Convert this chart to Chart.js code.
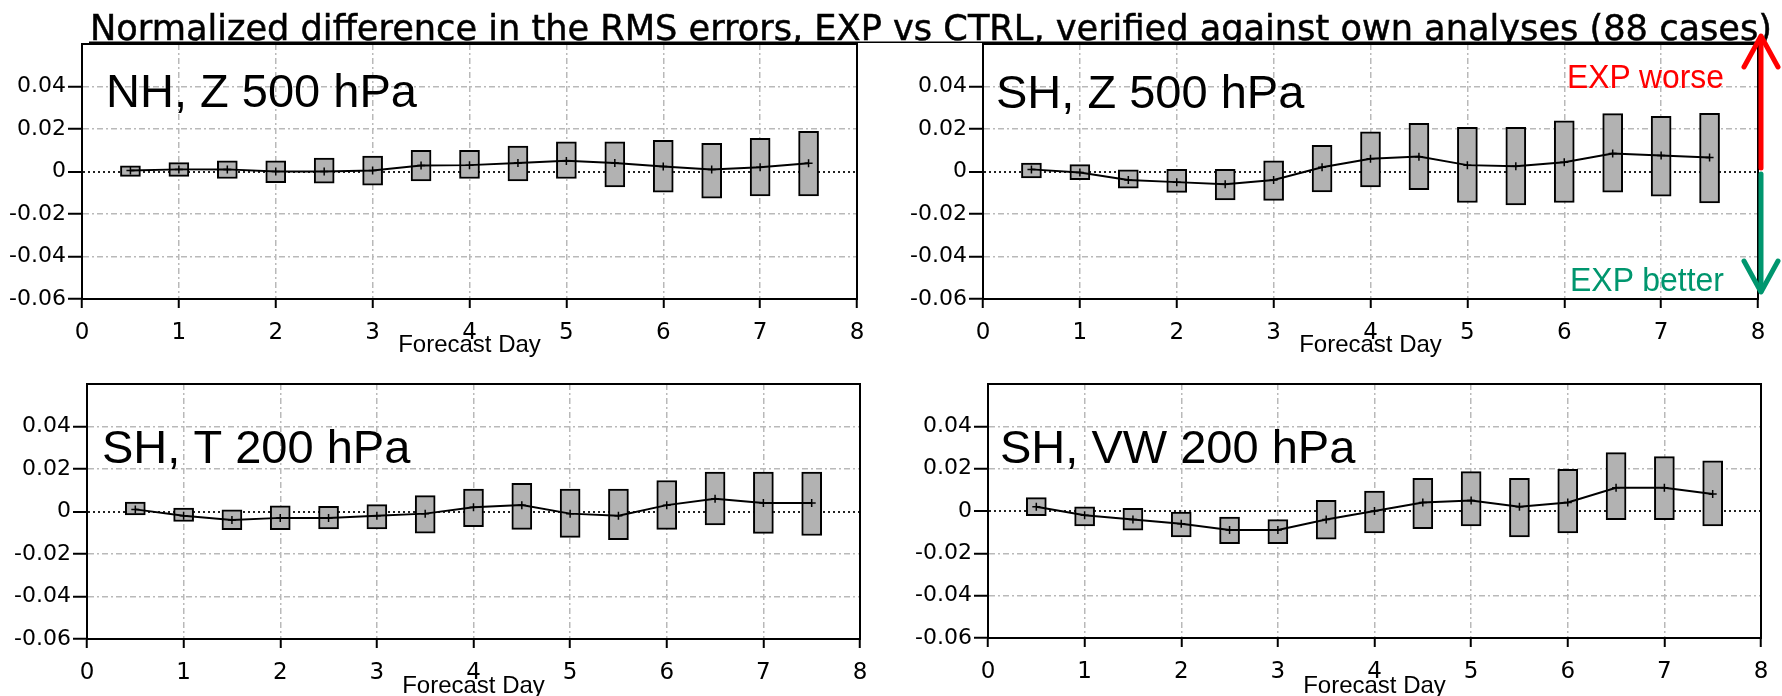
<!DOCTYPE html>
<html>
<head>
<meta charset="utf-8">
<title>Normalized RMS error difference</title>
<script src="https://cdn.jsdelivr.net/npm/chart.js@4.4.1/dist/chart.umd.min.js"></script>
<style>
  body { margin: 0; background: #fff; }
  #page { position: relative; width: 1782px; height: 696px; overflow: hidden; background: #fff; }
  canvas.panel { position: absolute; }
  #overlay { position: absolute; left: 0; top: 0; pointer-events: none; }
</style>
</head>
<body>
<div id="page">
  <canvas id="nhZ500" class="panel" width="880" height="360" style="left:0;top:0"></canvas>
  <canvas id="shZ500" class="panel" width="891" height="360" style="left:891px;top:0"></canvas>
  <canvas id="shT200" class="panel" width="880" height="336" style="left:0;top:360px"></canvas>
  <canvas id="shVW200" class="panel" width="891" height="336" style="left:891px;top:360px"></canvas>

  <svg id="overlay" width="1782" height="696">
    <defs>
      <clipPath id="titleClip"><rect x="0" y="0" width="1782" height="43"/></clipPath>
    </defs>
    <g clip-path="url(#titleClip)">
      <text x="90" y="39.5" font-family="DejaVu Sans" font-size="35" fill="#000" stroke="#000" stroke-width="0.5"
            textLength="1682" lengthAdjust="spacingAndGlyphs">Normalized difference in the RMS errors, EXP vs CTRL, verified against own analyses (88 cases)</text>
      <rect x="89" y="41.5" width="1669" height="2" fill="#000"/>
    </g>

    <!-- sign convention arrows on the right -->
    <g stroke="#ff0000" stroke-width="5" fill="none" stroke-linecap="round" stroke-linejoin="round">
      <line x1="1761" y1="168" x2="1761" y2="38"/>
      <polyline points="1744,67 1761,36 1778,67"/>
    </g>
    <g stroke="#00966e" stroke-width="5" fill="none" stroke-linecap="round" stroke-linejoin="round">
      <line x1="1761" y1="174" x2="1761" y2="291"/>
      <polyline points="1744,261 1761,292 1778,261"/>
    </g>
    <text x="1567" y="88" font-family="Liberation Sans" font-size="33" fill="#ff0000" textLength="157" lengthAdjust="spacingAndGlyphs">EXP worse</text>
    <text x="1570" y="291" font-family="Liberation Sans" font-size="33" fill="#00966e" textLength="154" lengthAdjust="spacingAndGlyphs">EXP better</text>
  </svg>
</div>

<script>
// forecast lead times (days) of the verification boxes
const forecastDays = [0.5, 1, 1.5, 2, 2.5, 3, 3.5, 4, 4.5, 5, 5.5, 6, 6.5, 7, 7.5]
const dayTicks = [0, 1, 2, 3, 4, 5, 6, 7, 8]
const diffTicks = [-0.06, -0.04, -0.02, 0, 0.02, 0.04]

// NH, Z 500 hPa
const nhZ500Low = [-0.0023, -0.0023, -0.0033, -0.0053, -0.0055, -0.0064, -0.0044, -0.0033, -0.0044, -0.0033, -0.0073, -0.0097, -0.0126, -0.0115, -0.0115]
const nhZ500High = [0.0027, 0.0042, 0.005, 0.005, 0.0063, 0.0072, 0.010, 0.010, 0.012, 0.014, 0.014, 0.0147, 0.0132, 0.0156, 0.0189]
const nhZ500Mean = [0.0005, 0.001, 0.001, 0.0, 0.0, 0.0005, 0.0028, 0.003, 0.004, 0.005, 0.004, 0.0023, 0.001, 0.002, 0.0039]

// SH, Z 500 hPa
const shZ500Low = [-0.003, -0.0038, -0.0078, -0.0098, -0.0134, -0.0136, -0.0096, -0.0072, -0.0085, -0.0146, -0.0157, -0.0146, -0.0097, -0.0116, -0.0148]
const shZ500High = [0.0040, 0.0032, 0.0008, 0.001, 0.001, 0.005, 0.0123, 0.0187, 0.0227, 0.0208, 0.0208, 0.0238, 0.0272, 0.026, 0.0274]
const shZ500Mean = [0.001, -0.0005, -0.004, -0.005, -0.006, -0.004, 0.002, 0.006, 0.007, 0.003, 0.0025, 0.0044, 0.0085, 0.0075, 0.0066]

// SH, T 200 hPa
const shT200Low = [-0.0016, -0.0047, -0.0086, -0.0086, -0.0082, -0.0082, -0.0102, -0.0071, -0.0084, -0.0122, -0.0133, -0.0084, -0.0063, -0.0103, -0.0113]
const shT200High = [0.0044, 0.0016, 0.0008, 0.0027, 0.0024, 0.0032, 0.0075, 0.0106, 0.0133, 0.0106, 0.0106, 0.0146, 0.0186, 0.0186, 0.0186]
const shT200Mean = [0.001, -0.002, -0.004, -0.003, -0.003, -0.002, -0.001, 0.002, 0.003, -0.001, -0.002, 0.003, 0.006, 0.004, 0.004]

// SH, VW 200 hPa
const shVW200Low = [-0.0022, -0.0071, -0.009, -0.0122, -0.0154, -0.0154, -0.0133, -0.0104, -0.0084, -0.0071, -0.0122, -0.0104, -0.0041, -0.0041, -0.0071]
const shVW200High = [0.0063, 0.002, 0.0013, 0.0, -0.0029, -0.0041, 0.0051, 0.0094, 0.0154, 0.0186, 0.0154, 0.0197, 0.0276, 0.0257, 0.0237]
const shVW200Mean = [0.002, -0.002, -0.004, -0.006, -0.009, -0.009, -0.004, 0.0, 0.004, 0.005, 0.002, 0.004, 0.011, 0.011, 0.008]

const near = (a, b) => Math.abs(a - b) < 1e-9
const gridGray = '#b9b9b9'

// black box round the plot area + the big panel name
const panelDecor = {
    id: 'panelDecor',
    afterDraw(chart, args, opts) {
        const {ctx, chartArea} = chart
        ctx.save()
        ctx.strokeStyle = '#000'
        ctx.lineWidth = 2
        ctx.strokeRect(chartArea.left, chartArea.top, chartArea.right - chartArea.left, chartArea.bottom - chartArea.top)
        ctx.font = '47px "Liberation Sans"'
        ctx.fillStyle = '#000'
        ctx.textBaseline = 'alphabetic'
        ctx.fillText(opts.text, opts.x, opts.y)
        ctx.restore()
    }
}

const showPanel = (id, name, low, high, mean, box) => {
    const boxes = forecastDays.map((d, i) => ({x: d, y: [low[i], high[i]]}))
    const means = forecastDays.map((d, i) => ({x: d, y: mean[i]}))

    new Chart(document.getElementById(id), {
        type: 'bar',
        data: {
            datasets: [{
                type: 'line',
                data: means,
                borderColor: '#000',
                borderWidth: 2,
                pointStyle: 'cross',
                pointRadius: 4,
                pointBorderWidth: 1.5,
                pointBorderColor: '#000',
                order: 0,
            }, {
                type: 'bar',
                data: boxes,
                backgroundColor: '#b2b2b2',
                borderColor: '#000',
                borderWidth: 2,
                borderSkipped: false,
                barThickness: 20,
                order: 1,
            }]
        },
        options: {
            responsive: false,
            animation: false,
            devicePixelRatio: 1,
            layout: {padding: {top: box.top, right: box.right, left: 0, bottom: 0}},
            plugins: {
                legend: {display: false},
                tooltip: {enabled: false},
                panelDecor: {text: name, x: box.labelX, y: box.labelY},
            },
            scales: {
                x: {
                    type: 'linear',
                    min: dayTicks[0],
                    max: dayTicks[dayTicks.length - 1],
                    offset: false,
                    afterFit: (s) => { s.height = box.xHeight },
                    afterBuildTicks: (s) => { s.ticks = dayTicks.map(v => ({value: v})) },
                    ticks: {
                        color: '#000',
                        font: {family: 'DejaVu Sans', size: 23},
                        padding: 11,
                        maxRotation: 0,
                        autoSkip: false,
                    },
                    grid: {
                        offset: false,
                        color: (c) => (c.tick && (near(c.tick.value, 0) || near(c.tick.value, 8))) ? 'rgba(0,0,0,0)' : gridGray,
                        lineWidth: 1.5,
                        tickColor: '#000',
                        tickLength: 9,
                        tickWidth: 2,
                        tickBorderDash: [],
                    },
                    border: {color: '#000', width: 2, dash: [6, 3, 2, 3]},
                    title: {
                        display: true,
                        text: 'Forecast Day',
                        color: '#000',
                        font: {family: 'Liberation Sans', size: 24},
                        padding: {top: 0, bottom: box.titlePad},
                    },
                },
                y: {
                    min: -0.06,
                    max: 0.06,
                    afterFit: (s) => { s.width = box.yWidth },
                    afterBuildTicks: (s) => { s.ticks = diffTicks.concat([0.06]).map(v => ({value: v})) },
                    ticks: {
                        color: '#000',
                        font: {family: 'DejaVu Sans', size: 22},
                        padding: 2,
                        callback: (v) => near(v, 0.06) ? '' : (near(v, 0) ? '0' : v.toFixed(2)),
                    },
                    grid: {
                        color: (c) => {
                            if (!c.tick) return gridGray
                            const v = c.tick.value
                            if (near(Math.abs(v), 0.06)) return 'rgba(0,0,0,0)'
                            return near(v, 0) ? '#222' : gridGray
                        },
                        lineWidth: (c) => (c.tick && near(c.tick.value, 0)) ? 2 : 1.5,
                        tickColor: (c) => (c.tick && near(c.tick.value, 0.06)) ? 'rgba(0,0,0,0)' : '#000',
                        tickLength: 14,
                        tickWidth: 2,
                        tickBorderDash: [],
                    },
                    border: {
                        color: '#000',
                        width: 2,
                        dash: (c) => (c.tick && near(c.tick.value, 0)) ? [2, 3] : [6, 3, 2, 3],
                    },
                },
            },
        },
        plugins: [panelDecor],
    })
}

window.onload = function () {
    showPanel('nhZ500', 'NH, Z 500 hPa', nhZ500Low, nhZ500High, nhZ500Mean,
        {top: 44, right: 23, yWidth: 82, xHeight: 61, titlePad: 0, labelX: 106, labelY: 107})
    showPanel('shZ500', 'SH, Z 500 hPa', shZ500Low, shZ500High, shZ500Mean,
        {top: 44, right: 24, yWidth: 92, xHeight: 61, titlePad: 0, labelX: 105, labelY: 108})
    showPanel('shT200', 'SH, T 200 hPa', shT200Low, shT200High, shT200Mean,
        {top: 24, right: 20, yWidth: 87, xHeight: 57, titlePad: -5, labelX: 102, labelY: 103})
    showPanel('shVW200', 'SH, VW 200 hPa', shVW200Low, shVW200High, shVW200Mean,
        {top: 24, right: 21, yWidth: 97, xHeight: 58, titlePad: -5, labelX: 109, labelY: 103})
}
</script>
</body>
</html>
